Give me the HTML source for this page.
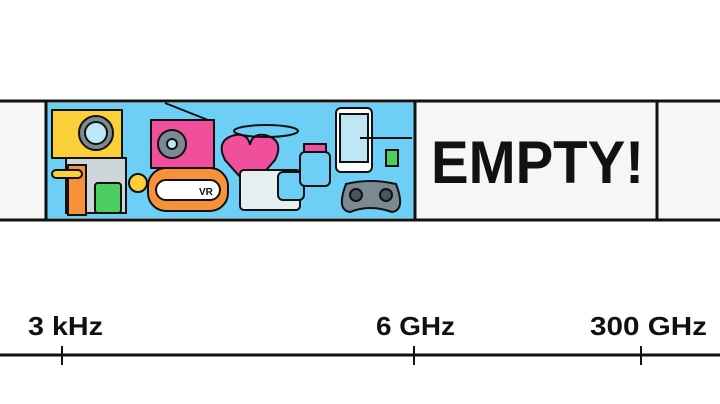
<!DOCTYPE html>
<html><head><meta charset="utf-8"><style>
html,body{margin:0;padding:0;background:#fff;}
body{width:720px;height:404px;position:relative;overflow:hidden;font-family:"Liberation Sans",sans-serif;}
</style></head><body>
<svg width="720" height="404" style="position:absolute;left:0;top:0">
<rect x="0" y="101" width="720" height="119" fill="#f6f6f6"/>
<rect x="47" y="103" width="367" height="115" fill="#6dcff6"/>
<g stroke="#111" stroke-width="2">
<rect x="52" y="110" width="70" height="48" fill="#fbcf3a"/>
<circle cx="96" cy="133" r="17" fill="#7b8a92"/><circle cx="96" cy="133" r="11" fill="#bfe6f5"/>
<rect x="66" y="158" width="60" height="55" fill="#cfd6da"/>
<rect x="68" y="165" width="18" height="50" fill="#f7923a"/>
<rect x="52" y="170" width="30" height="8" rx="4" fill="#fbcf3a"/>
<rect x="95" y="183" width="26" height="30" rx="3" fill="#4ccf5e"/>
<circle cx="138" cy="183" r="9" fill="#fbcf3a"/>
<rect x="151" y="120" width="63" height="48" fill="#ef4f9b"/>
<circle cx="172" cy="144" r="14" fill="#7b8a92"/><circle cx="172" cy="144" r="5" fill="#bfe6f5"/>
<line x1="165" y1="103" x2="208" y2="120"/>
<rect x="148" y="168" width="80" height="43" rx="18" fill="#f7923a"/>
<rect x="156" y="180" width="64" height="20" rx="10" fill="#fff"/>
<path d="M250 188 L225 160 Q215 140 235 135 Q248 133 250 145 Q252 133 265 135 Q285 140 275 160 Z" fill="#ef4f9b"/>
<ellipse cx="266" cy="131" rx="32" ry="6" fill="none"/>
<rect x="240" y="170" width="60" height="40" rx="4" fill="#e6eef0"/>
<rect x="278" y="172" width="26" height="28" rx="5" fill="#6dcff6"/>
<rect x="300" y="152" width="30" height="34" rx="5" fill="#6dcff6"/>
<rect x="304" y="144" width="22" height="8" fill="#ef4f9b"/>
<rect x="336" y="108" width="36" height="64" rx="5" fill="#fff"/>
<rect x="340" y="114" width="28" height="48" fill="#bfe6f5"/>
<rect x="386" y="150" width="12" height="16" fill="#4ccf5e"/>
<line x1="360" y1="138" x2="412" y2="138"/>
<path d="M346 184 Q370 178 396 184 Q406 210 392 212 Q370 204 350 212 Q336 210 346 184Z" fill="#7b8a92"/>
<circle cx="356" cy="195" r="6" fill="#4a555c"/><circle cx="386" cy="195" r="6" fill="#4a555c"/>
</g>
<text x="199" y="195" font-family="Liberation Sans" font-weight="bold" font-size="10" fill="#111">VR</text>
<g stroke="#111" stroke-width="3" fill="none">
<line x1="0" y1="101" x2="720" y2="101"/>
<line x1="0" y1="220" x2="720" y2="220"/>
<line x1="46" y1="101" x2="46" y2="220"/>
<line x1="415" y1="101" x2="415" y2="220"/>
<line x1="657" y1="101" x2="657" y2="220"/>
<line x1="0" y1="355" x2="720" y2="355"/>
</g>
<g stroke="#111" stroke-width="2">
<line x1="62" y1="346" x2="62" y2="365"/>
<line x1="414" y1="346" x2="414" y2="365"/>
<line x1="641" y1="346" x2="641" y2="365"/>
</g>
<text x="431" y="183" font-family="Liberation Sans" font-weight="bold" font-size="60" fill="#111" textLength="213" lengthAdjust="spacingAndGlyphs">EMPTY!</text>
<g font-family="Liberation Sans" font-weight="bold" font-size="26" fill="#111">
<text x="28" y="335" textLength="75" lengthAdjust="spacingAndGlyphs">3 kHz</text>
<text x="376" y="335" textLength="79" lengthAdjust="spacingAndGlyphs">6 GHz</text>
<text x="590" y="335" textLength="117" lengthAdjust="spacingAndGlyphs">300 GHz</text>
</g>
</svg>
</body></html>
